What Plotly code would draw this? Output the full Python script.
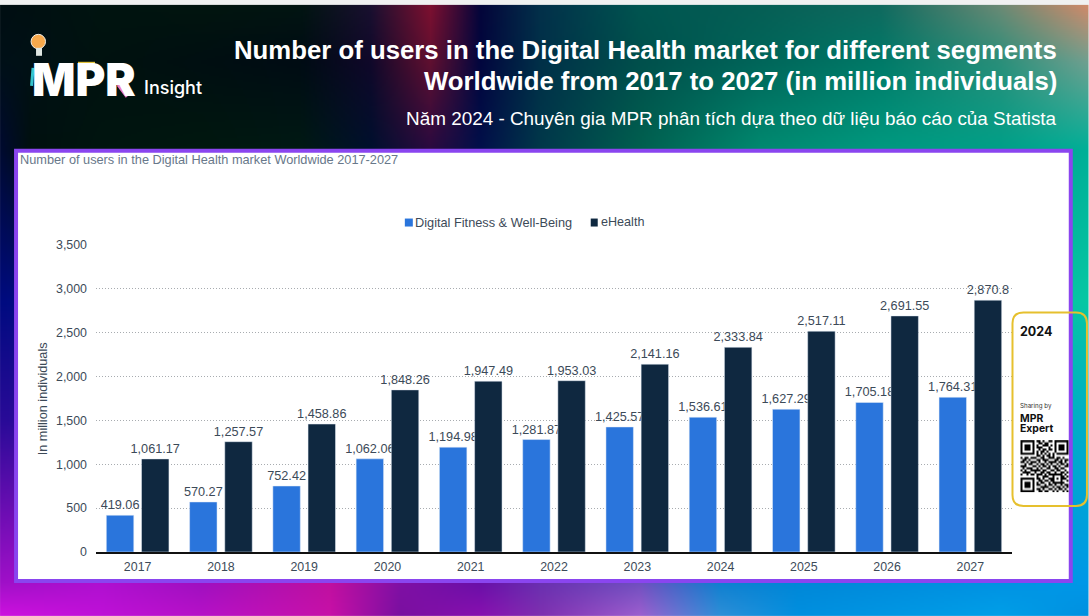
import base64, struct, zlib
import numpy as np
import plotly.graph_objects as go

years = ["2017","2018","2019","2020","2021","2022","2023","2024","2025","2026","2027"]
fitness = [419.06,570.27,752.42,1062.06,1194.98,1281.87,1425.57,1536.61,1627.29,1705.18,1764.31]
ehealth = [1061.17,1257.57,1458.86,1848.26,1947.49,1953.03,2141.16,2333.84,2517.11,2691.55,2870.8]
y_ticks = [0,500,1000,1500,2000,2500,3000,3500]

W, H = 1089, 616
L, R, T, B = 96.0, 1012.5, 244.5, 552.0
PW, PH = R - L, B - T
BLUE, NAVY, PURPLE = "#2a75dc", "#0f2840", "#8a45ef"
SANS = "Liberation Sans"

def px(x): return (x - L) / PW
def py(y): return (B - y) / PH

def png_uri(rgb):
    h, w, _ = rgb.shape
    raw = b"".join(b"\x00" + rgb[i].tobytes() for i in range(h))
    def chunk(t, d):
        return struct.pack(">I", len(d)) + t + d + struct.pack(">I", zlib.crc32(t + d))
    data = b"\x89PNG\r\n\x1a\n" + chunk(b"IHDR", struct.pack(">IIBBBBB", w, h, 8, 2, 0, 0, 0)) \
        + chunk(b"IDAT", zlib.compress(raw, 9)) + chunk(b"IEND", b"")
    return "data:image/png;base64," + base64.b64encode(data).decode()

def hexrgb(c): return [int(c[i:i+2], 16) for i in (1, 3, 5)]

bg_rows = [
 (4, [(0,"#000e12"),(100,"#001410"),(200,"#02150f"),(300,"#021512"),(370,"#1a1030"),(430,"#7d1030"),(480,"#04053a"),(540,"#03304a"),(640,"#005550"),(760,"#065f55"),(880,"#106a5f"),(1000,"#6a8a75"),(1089,"#d08a6a")]),
 (60, [(0,"#001018"),(100,"#00120f"),(300,"#000c14"),(370,"#10082a"),(430,"#601030"),(480,"#02063e"),(540,"#003048"),(640,"#00504c"),(760,"#00665a"),(880,"#007a68"),(1000,"#2a8f7a"),(1089,"#70a090")]),
 (148, [(0,"#000a30"),(30,"#00100f"),(100,"#001510"),(200,"#00180f"),(300,"#001a14"),(370,"#00102e"),(430,"#2a0a40"),(480,"#02104a"),(540,"#00384a"),(640,"#00604f"),(760,"#008a70"),(880,"#009a80"),(1000,"#00a088"),(1089,"#00b098")]),
 (300, [(0,"#000a80"),(1089,"#06c8a4")]),
 (420, [(0,"#2a0a98"),(1089,"#00b0c8")]),
 (582, [(0,"#a010c8"),(100,"#b010d0"),(200,"#a010c0"),(330,"#c010a0"),(400,"#800fa5"),(480,"#6a10a8"),(540,"#6a30b0"),(640,"#7050c0"),(720,"#1080d0"),(800,"#0088d8"),(1089,"#0098e8")]),
 (616, [(0,"#d010e0"),(100,"#c010d8"),(200,"#b810c8"),(330,"#c810a8"),(400,"#7a10a0"),(480,"#8a10b0"),(540,"#8030b0"),(640,"#a060d0"),(720,"#3090d8"),(800,"#0090e0"),(1000,"#00a0e8"),(1089,"#0090e0")]),
]
xs = np.arange(0, W, 2)
ys = np.arange(4, H, 2)
stack = []
for _, stops in bg_rows:
    sx = [s[0] for s in stops]
    cols = np.array([hexrgb(s[1]) for s in stops], float)
    stack.append(np.stack([np.interp(xs, sx, cols[:, k]) for k in range(3)], axis=1))
stack = np.array(stack)
ry = [r[0] for r in bg_rows]
bg = np.zeros((len(ys), len(xs), 3), np.uint8)
for k in range(3):
    for j in range(len(xs)):
        bg[:, j, k] = np.interp(ys, ry, stack[:, j, k]).astype(np.uint8)

qr = [
"1111111011010011011111110",
"1000001001101100010000010",
"1011101010011101010111010",
"1011101011100010010111010",
"1011101001011011010111010",
"1000001010110100010000010",
"1111111010101010101111110",
"0000000011010110100000000",
"1011011100110011101101001",
"0110100011011100011010110",
"1101011101001011110110101",
"0010110010110101001011010",
"1110001101011010110100111",
"0101110010100110011011000",
"1010011111011001101100101",
"0111100100110110010011011",
"1001011011101011111110100",
"0000000010011100100011010",
"1111111011010011101011101",
"1000001001101101100010010",
"1011101010110010111111001",
"1011101011001011010010110",
"1011101000111100101101011",
"1000001011010011010110100",
"1111111001101100101001011",
]
qr_arr = np.array([[0 if ch == "1" else 255 for ch in row[:24]] for row in qr], np.uint8)
qr_rgb = np.stack([qr_arr] * 3, axis=2)

fig = go.Figure()
fig.add_bar(x=years, y=fitness, name="Digital Fitness & Well-Being", marker_color=BLUE,
            text=[f"{v:,.2f}".rstrip("0") for v in fitness], textposition="outside", cliponaxis=False,
            constraintext="none", textangle=0,
            textfont=dict(family=SANS, size=12.7, color="#3c4a58"), showlegend=False)
fig.add_bar(x=years, y=ehealth, name="eHealth", marker_color=NAVY,
            text=[f"{v:,.2f}".rstrip("0") for v in ehealth], textposition="outside", cliponaxis=False,
            constraintext="none", textangle=0,
            textfont=dict(family=SANS, size=12.7, color="#3c4a58"), showlegend=False)

def note(x, y, text, size, color, anchor="left", weight="normal", family=SANS, angle=0):
    return dict(xref="paper", yref="paper", x=px(x), y=py(y), text=text, showarrow=False,
                xanchor=anchor, yanchor="middle", borderpad=0, borderwidth=0, textangle=angle,
                font=dict(family=family, size=size, color=color, weight=weight))

def rect(x0, y0, x1, y1, **kw):
    return dict(type="rect", xref="paper", yref="paper", x0=px(x0), x1=px(x1), y0=py(y0), y1=py(y1), **kw)

def rounded(x0, y0, x1, y1, r):
    X, Y = px, py
    return (f"M {X(x0+r)} {Y(y0)} L {X(x1-r)} {Y(y0)} Q {X(x1)} {Y(y0)} {X(x1)} {Y(y0+r)} "
            f"L {X(x1)} {Y(y1-r)} Q {X(x1)} {Y(y1)} {X(x1-r)} {Y(y1)} L {X(x0+r)} {Y(y1)} "
            f"Q {X(x0)} {Y(y1)} {X(x0)} {Y(y1-r)} L {X(x0)} {Y(y0+r)} Q {X(x0)} {Y(y0)} {X(x0+r)} {Y(y0)} Z")

def seg(x0, y0, x1, y1, color, width):
    return dict(type="line", xref="paper", yref="paper", x0=px(x0), x1=px(x1), y0=py(y0), y1=py(y1),
                line=dict(color=color, width=width), layer="above")

shapes = [
    rect(16, 150, 1071.3, 581, fillcolor="white", line=dict(color=PURPLE, width=4), layer="below"),
    rect(405, 218, 413, 226, fillcolor=BLUE, line_width=0),
    rect(591, 218, 598, 226, fillcolor=NAVY, line_width=0),
    dict(type="path", xref="paper", yref="paper", path=rounded(1013, 312, 1087.5, 506, 11),
         line=dict(color="#e6c02e", width=2), fillcolor="rgba(0,0,0,0)", layer="above"),
    dict(type="circle", xref="paper", yref="paper", x0=px(31), x1=px(45.5), y0=py(33.5), y1=py(48),
         fillcolor="#f8a94c", line=dict(color="#f4f0e8", width=1)),
    rect(36, 47, 42, 55, fillcolor="#dfe6e2", line_width=0),
    seg(33, 67, 31.5, 85, "#35c4cc", 3),
    seg(78, 62.5, 95, 62.5, "#e2c23a", 3),
    seg(118, 84, 127, 96, "#e87ac0", 3),
]

annotations = [
    note(1058, 49, "<b>Number of users in the Digital Health market for different segments</b>", 25.75, "white", "right"),
    note(1058, 80, "<b>Worldwide from 2017 to 2027 (in million individuals)</b>", 25.75, "white", "right"),
    note(1058, 118, "Năm 2024 - Chuyên gia MPR phân tích dựa theo dữ liệu báo cáo của Statista", 18.9, "white", "right"),
    note(32, 79, "MPR", 45.5, "white", weight=900, family="Inter"),
    note(144, 87, "Insight", 18, "white", weight=500, family="Inter"),
    note(20, 159, "Number of users in the Digital Health market Worldwide 2017-2027", 12.75, "#68788a"),
    note(415, 221.5, "Digital Fitness & Well-Being", 12.75, "#3c4a58"),
    note(601, 221.5, "eHealth", 12.6, "#3c4a58"),
    note(43, 399, "In million individuals", 12.7, "#3c4a58", "center", angle=-90),
    note(1021, 331, "2024", 12.5, "#111111", weight=700, family="Inter"),
    note(1021, 406, "Sharing by", 6.2, "#333333", family="Inter"),
    note(1021, 418, "MPR", 10.4, "#111111", weight=700, family="Inter"),
    note(1021, 428, "Expert", 10.4, "#111111", weight=700, family="Inter"),
]

images = [
    dict(source=png_uri(bg), xref="paper", yref="paper", x=px(0), y=py(4), sizex=W / PW, sizey=(H - 4) / PH,
         sizing="stretch", xanchor="left", yanchor="top", layer="below"),
    dict(source=png_uri(qr_rgb), xref="paper", yref="paper", x=px(1021), y=py(440), sizex=48 / PW, sizey=52 / PH,
         sizing="stretch", xanchor="left", yanchor="top", layer="above"),
]

fig.update_layout(
    width=W, height=H, autosize=False,
    margin=dict(l=L, r=W - R, t=T, b=H - B, pad=0),
    paper_bgcolor="#f0f1f1", plot_bgcolor="rgba(0,0,0,0)",
    barmode="group", bargap=0.155, bargroupgap=0.22,
    shapes=shapes, annotations=annotations, images=images,
    font=dict(family=SANS, color="#3c4a58"),
)
fig.update_xaxes(type="category", showgrid=False, ticks="", showline=True, linecolor="#111111", linewidth=1.5,
                 tickfont=dict(family=SANS, size=12.4, color="#3c4a58"), ticklabelstandoff=2, zeroline=False)
fig.update_yaxes(range=[0, 3500], tickvals=y_ticks, tickformat=",d", showgrid=True, griddash="1px,2px",
                 gridcolor="#a8acb0", gridwidth=1, zeroline=False, showline=False, ticks="",
                 tickfont=dict(family=SANS, size=12.4, color="#3c4a58"), ticklabelstandoff=8)

fig.write_html("out.html", config=dict(displayModeBar=False),
               post_script="document.body.style.margin='0';document.documentElement.style.overflow='hidden';")
